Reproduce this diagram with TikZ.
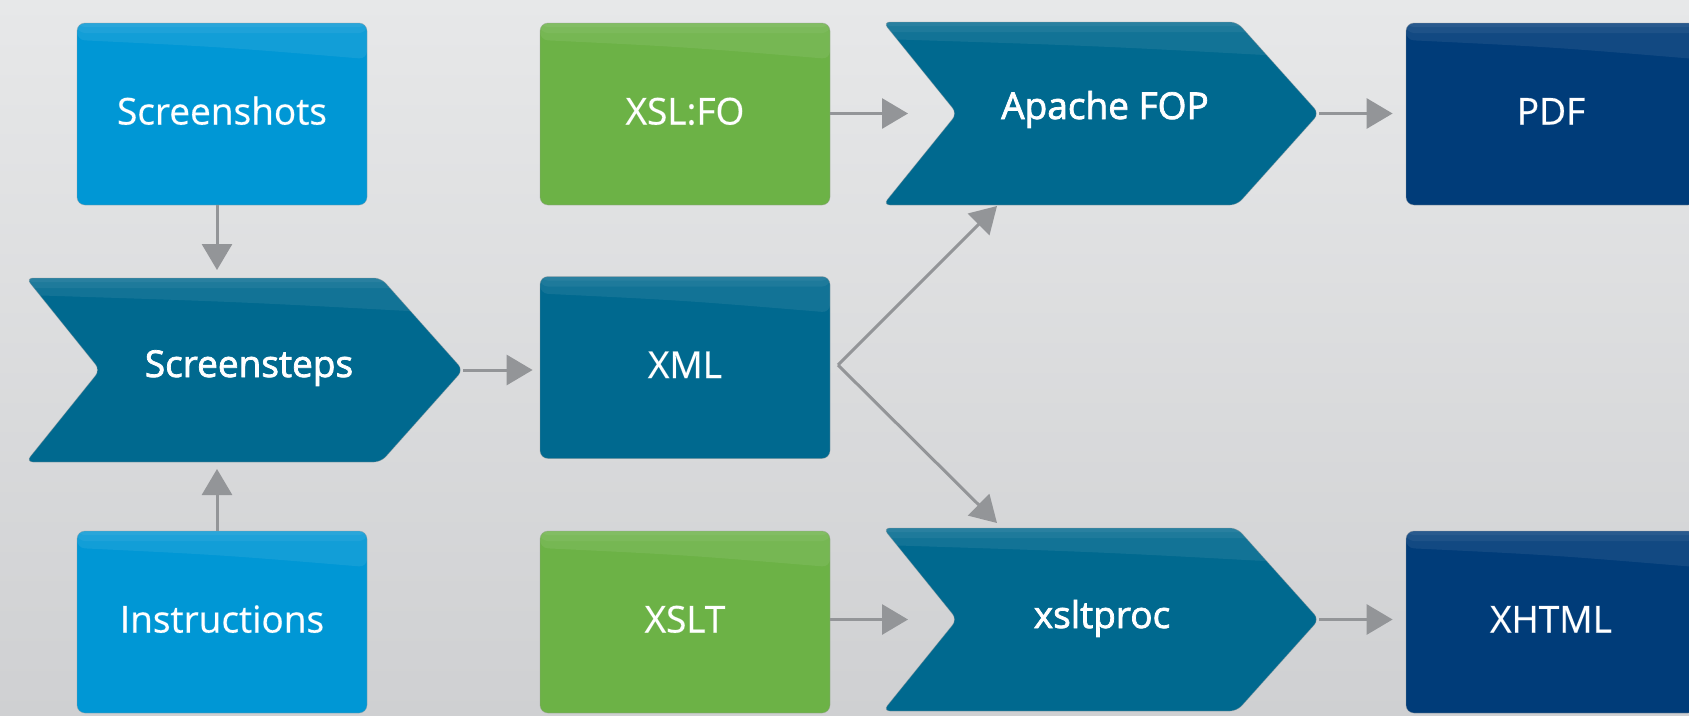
\documentclass[tikz,border=0pt]{standalone}
\usepackage{fontspec}
\setmainfont{Open Sans}
\newfontfamily\lblfamily{Open Sans}[FakeBold=2]
\usetikzlibrary{calc,arrows.meta}
\definecolor{bgtop}{HTML}{E7E8E9}
\definecolor{bgbot}{HTML}{CFD0D2}
\definecolor{cyanbox}{HTML}{0097D5}
\definecolor{greenbox}{HTML}{6CB246}
\definecolor{tealbox}{HTML}{00698F}
\definecolor{navybox}{HTML}{003C79}
\definecolor{linkgray}{HTML}{939598}
\begin{document}
\begin{tikzpicture}[x=1pt,y=-1pt,
  gloss/.style={path picture={
     \fill[white,fill opacity=0.07] (path picture bounding box.north west) -- (path picture bounding box.north east) -- ($(path picture bounding box.north east)+(0,36)$) .. controls ($(path picture bounding box.north)+(0,24)$) .. ($(path picture bounding box.north west)+(0,17)$) -- cycle;
     \fill[white,fill opacity=0.05] (path picture bounding box.north west) rectangle ($(path picture bounding box.north east)+(0,10)$);
     \fill[white,fill opacity=0.05] (path picture bounding box.north west) rectangle ($(path picture bounding box.north east)+(0,4)$);
  }},
  lbl/.style={text=white, font=\lblfamily\fontsize{37}{40}\selectfont},
  box/.style={lbl, rounded corners=8pt, minimum width=290pt, minimum height=182pt, inner sep=0pt,
     text height=21pt, text depth=0pt, draw=black!40, draw opacity=0.35, line width=0.8pt, gloss},
  chev/.style={rounded corners=7pt, draw=black!40, draw opacity=0.35, line width=0.8pt, gloss},
  chevtext/.style={lbl, anchor=base, inner sep=0pt},
  link/.style={draw=linkgray, line width=3pt, -{Triangle[length=26pt,width=30pt]}},
]
% background
\shade[top color=bgtop,bottom color=bgbot] (0,0) rectangle (1689,715);
\useasboundingbox (0,0) rectangle (1689,715);

% rectangular boxes
\node[box, fill=cyanbox] (shots) at (222,114) {Screenshots};
\node[box, fill=cyanbox] (instr) at (222,622) {Instructions};
\node[box, fill=greenbox] (xslfo) at (685,114) {XSL:FO};
\node[box, fill=tealbox] (xml) at (685,367.5) {XML};
\node[box, fill=greenbox] (xslt) at (685,622) {XSLT};
\node[box, fill=navybox] (pdf) at (1551,114) {PDF};
\node[box, fill=navybox] (xhtml) at (1551,622) {XHTML};

% chevrons
\path[chev, fill=tealbox] (26,278) -- (381,278) -- (463,370) -- (381,462) -- (26,462) -- (100,370) -- cycle;
\node[chevtext] (steps) at (249,377) {Screensteps};
\coordinate (steps-e) at (463,370);
\coordinate (steps-n) at (217,278);
\coordinate (steps-s) at (217,462);

\path[chev, fill=tealbox] (883,22) -- (1237,22) -- (1319,113.5) -- (1237,205) -- (883,205) -- (957,113.5) -- cycle;
\node[chevtext] (fop) at (1105,119) {Apache FOP};
\coordinate (fop-e) at (1319,113.5);
\coordinate (fop-w) at (957,113.5);
\coordinate (fop-in) at (997,206);

\path[chev, fill=tealbox] (883,528) -- (1237,528) -- (1319,619.5) -- (1237,711) -- (883,711) -- (957,619.5) -- cycle;
\node[chevtext] (xproc) at (1102,628) {xsltproc};
\coordinate (xproc-e) at (1319,619.5);
\coordinate (xproc-w) at (957,619.5);
\coordinate (xproc-in) at (997,523);

% connectors
\draw[link, shorten >=8pt] (shots.south -| steps-n) -- (steps-n);
\draw[link, shorten >=7pt] (instr.north -| steps-s) -- (steps-s);
\draw[link, shorten >=7pt] (steps-e) -- (steps-e -| xml.west);
\draw[link, shorten >=49pt] (xslfo.east |- fop-w) -- (fop-w);
\draw[link, shorten >=13pt] (fop-e) -- (fop-e -| pdf.west);
\draw[link, shorten >=49pt] (xslt.east |- xproc-w) -- (xproc-w);
\draw[link, shorten >=13pt] (xproc-e) -- (xproc-e -| xhtml.west);
\coordinate (split) at (838,365);
\draw[link] (split) -- (fop-in);
\draw[link] (split) -- (xproc-in);
\end{tikzpicture}
\end{document}
